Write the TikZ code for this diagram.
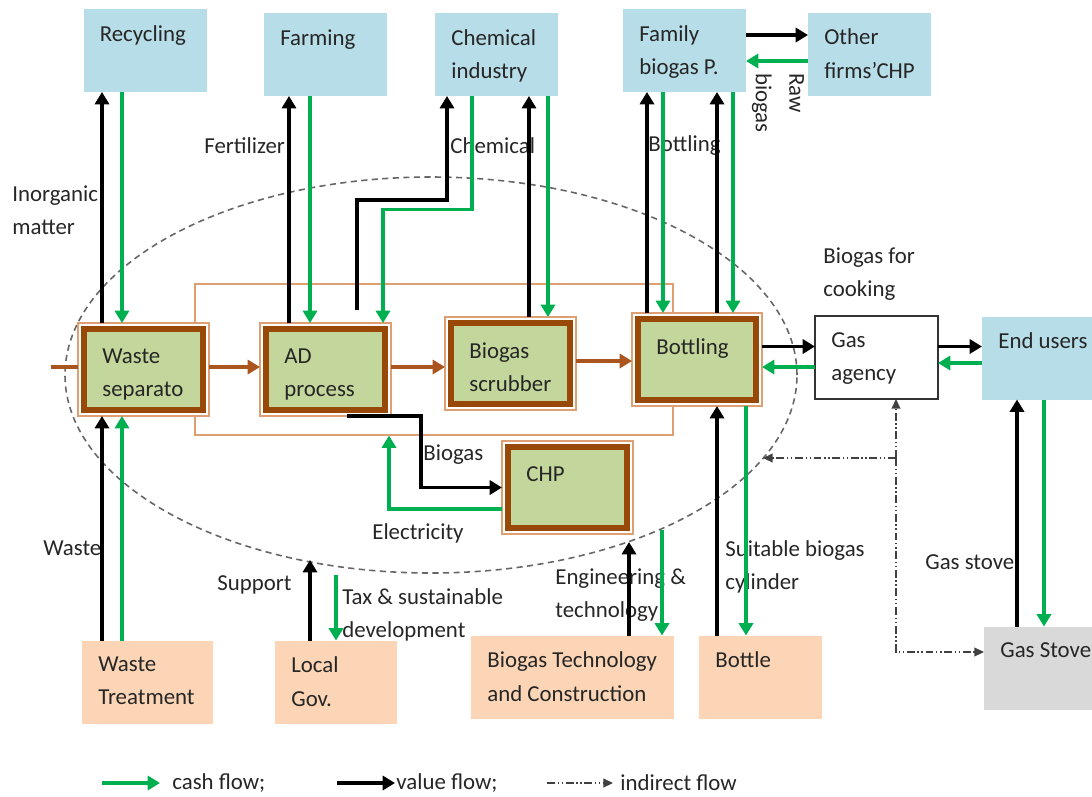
\documentclass[tikz,border=0pt]{standalone}
\usepackage{fontspec}
\setmainfont{Carlito}
\usetikzlibrary{arrows.meta,shapes.geometric}

\definecolor{skyblue}{RGB}{183,221,232}
\definecolor{peach}{RGB}{251,213,181}
\definecolor{stovegray}{RGB}{217,217,217}
\definecolor{procgreen}{RGB}{195,214,155}
\definecolor{procbrown}{RGB}{152,72,7}
\definecolor{edgebrown}{RGB}{222,160,115}
\definecolor{chainbrown}{RGB}{170,85,30}
\definecolor{cashgreen}{RGB}{0,176,80}
\definecolor{txt}{RGB}{38,38,38}

\tikzset{
  every node/.style={font=\fontsize{13}{19}\selectfont, text=txt},
  boxname/.style={anchor=north west, xshift=0.32cm, yshift=-0.32cm, inner sep=0pt, align=left},
  procname/.style={anchor=north west, xshift=0.48cm, yshift=-0.5cm, inner sep=0pt, align=left},
  flowlabel/.style={anchor=west, align=left, inner sep=0pt},
  market/.style={fill=skyblue, minimum width=2.46cm, minimum height=1.66cm, inner sep=0pt, outer sep=0pt},
  supplier/.style={market, fill=peach},
  process/.style={draw=edgebrown, line width=0.6pt, fill=white, minimum width=2.62cm,
    minimum height=1.86cm, inner sep=0pt, outer sep=0pt,
    path picture={\draw[procbrown, fill=procgreen, line width=3.4pt]
      ([shift={(0.12,0.12)}]path picture bounding box.south west) rectangle
      ([shift={(-0.12,-0.12)}]path picture bounding box.north east);}},
  chainframe/.style={draw=edgebrown, line width=0.6pt, minimum width=9.56cm, minimum height=3.02cm, inner sep=0pt},
  zone/.style={ellipse, draw=black!60, line width=0.9pt, dash pattern=on 3.5pt off 2.5pt,
    minimum width=14.64cm, minimum height=7.92cm, inner sep=0pt},
  valueflow/.style={draw=black, line width=2pt, -{Triangle[length=7pt,width=8pt]}},
  cashflow/.style={valueflow, draw=cashgreen},
  chainflow/.style={valueflow, draw=chainbrown},
  indirectflow/.style={draw=black!75, line width=0.9pt, -{Triangle[length=5.5pt,width=5pt]},
    dash pattern=on 4.5pt off 1.5pt on 0.8pt off 1.5pt on 0.8pt off 1.5pt}
}

\begin{document}
\begin{tikzpicture}
  \useasboundingbox (0,0) rectangle (21.84,-15.92);

  % columns and rows of the flows
  \foreach \n/\x in {kRec/2.04, gRec/2.44, kFarm/5.78, gFarm/6.20, kChemA/7.14, gChemA/7.66,
      kChemB/8.94, gChemB/9.44, kScrub/10.58, gScrub/10.96, kFamA/12.94, gFamA/13.26,
      kFamB/14.34, gFamB/14.66, gBottle/14.92, kGov/6.20, gGov/6.72, kTech/12.58,
      gTech/13.24, kUser/20.34, gUser/20.88, kChp/6.94, kChpB/8.42, gChp/7.78}
    \coordinate (\n) at (\x,0);
  \foreach \n/\y in {kOther/-0.70, gOther/-1.22, kAgency/-6.93, gAgency/-7.34, gUsers/-7.26,
      chainA/-7.34, chainB/-7.22, gChpY/-10.18, indY/-13.04}
    \coordinate (\n) at (0,\y);

  % system boundary
  \node[zone] (zone) at (8.62,-7.50) {};
  \node[chainframe] (frame) at (8.68,-7.19) {};

  % markets
  \node[market, label={[boxname]north west:Recycling}] (rec) at (2.90,-1.01) {};
  \node[market, label={[boxname]north west:Farming}] (farm) at (6.51,-1.09) {};
  \node[market, label={[boxname]north west:Chemical\\industry}] (chem) at (9.93,-1.09) {};
  \node[market, label={[boxname]north west:Family\\biogas P.}] (fam) at (13.69,-1.01) {};
  \node[market, label={[boxname]north west:Other\\firms’CHP}] (other) at (17.39,-1.08) {};
  \node[market, label={[boxname]north west:End users}] (users) at (20.87,-7.16) {};
  \node[market, fill=white, draw=black!80, line width=0.8pt,
    label={[boxname]north west:Gas\\agency}] (agency) at (17.53,-7.15) {};
  \node[market, fill=stovegray, label={[boxname]north west:Gas Stove}] (stove) at (20.91,-13.36) {};

  % suppliers
  \node[supplier, minimum width=2.62cm, label={[boxname]north west:Waste\\Treatment}] (wtreat) at (2.95,-13.64) {};
  \node[supplier, minimum width=2.44cm, label={[boxname]north west:Local\\Gov.}] (gov) at (6.72,-13.64) {};
  \node[supplier, minimum width=4.06cm, label={[boxname]north west:Biogas Technology\\and Construction}] (tech) at (11.45,-13.54) {};
  \node[supplier, label={[boxname]north west:Bottle}] (bottle) at (15.21,-13.54) {};

  % process chain
  \node[process, label={[procname]north west:Waste\\separato}] (sep) at (2.87,-7.39) {};
  \node[process, label={[procname]north west:AD\\process}] (ad) at (6.51,-7.39) {};
  \node[process, label={[procname]north west:Biogas\\scrubber}] (scrub) at (10.21,-7.27) {};
  \node[process, minimum width=2.60cm, label={[procname]north west:Bottling}] (bott) at (13.94,-7.19) {};
  \node[process, label={[procname]north west:CHP}] (chp) at (11.35,-9.75) {};

  % flow labels
  \node[flowlabel] (inorg) at (0.24,-4.20) {Inorganic\\matter};
  \node[flowlabel] (fert) at (4.08,-2.92) {Fertilizer};
  \node[flowlabel] (chemlbl) at (9.00,-2.92) {Chemical};
  \node[flowlabel] (bottlbl) at (12.96,-2.92) {Bottling};
  \node[flowlabel, rotate=-90] (raw) at (15.56,-1.46) {Raw\\biogas};
  \node[flowlabel] (cook) at (16.46,-5.48) {Biogas for\\cooking};
  \node[flowlabel] (gaslbl) at (8.46,-9.10) {Biogas};
  \node[flowlabel] (elec) at (7.44,-10.66) {Electricity};
  \node[flowlabel] (wastelbl) at (0.86,-10.96) {Waste};
  \node[flowlabel] (support) at (4.34,-11.70) {Support};
  \node[flowlabel] (tax) at (6.84,-12.30) {Tax \& sustainable\\development};
  \node[flowlabel] (eng) at (11.10,-11.90) {Engineering \&\\technology};
  \node[flowlabel] (suit) at (14.50,-11.34) {Suitable biogas\\cylinder};
  \node[flowlabel] (stovelbl) at (18.50,-11.24) {Gas stove};

  % main chain
  \coordinate (inlet) at (1.02,-7.34);
  \draw[chainflow, -] (inlet) -- (sep.west |- chainA);
  \draw[chainflow] (sep.east |- chainA) -- (ad.west |- chainA);
  \draw[chainflow] (ad.east |- chainA) -- (scrub.west |- chainA);
  \draw[chainflow] (scrub.east |- chainB) -- (bott.west |- chainB);

  % upper markets
  \draw[valueflow] (kRec |- sep.north) -- (kRec |- rec.south);
  \draw[cashflow] (gRec |- rec.south) -- (gRec |- sep.north);
  \draw[valueflow] (kFarm |- ad.north) -- (kFarm |- farm.south);
  \draw[cashflow] (gFarm |- farm.south) -- (gFarm |- ad.north);
  \draw[valueflow, shorten <=0.26cm] (kChemA |- ad.north) -- ++(0,2.46) -| (kChemB |- chem.south);
  \draw[cashflow] (gChemB |- chem.south) -- ++(0,-2.27) -| (gChemA |- ad.north);
  \draw[valueflow] (kScrub |- scrub.north) -- (kScrub |- chem.south);
  \draw[cashflow] (gScrub |- chem.south) -- (gScrub |- scrub.north);
  \draw[valueflow] (kFamA |- bott.north) -- (kFamA |- fam.south);
  \draw[cashflow] (gFamA |- fam.south) -- (gFamA |- bott.north);
  \draw[valueflow] (kFamB |- bott.north) -- (kFamB |- fam.south);
  \draw[cashflow] (gFamB |- fam.south) -- (gFamB |- bott.north);
  \draw[valueflow] (fam.east |- kOther) -- (other.west |- kOther);
  \draw[cashflow] (other.west |- gOther) -- (fam.east |- gOther);

  % distribution
  \draw[valueflow] (bott.east |- kAgency) -- (agency.west |- kAgency);
  \draw[cashflow] (agency.west |- gAgency) -- (bott.east |- gAgency);
  \draw[valueflow] (agency.east |- kAgency) -- (users.west |- kAgency);
  \draw[cashflow] (users.west |- gUsers) -- (agency.east |- gUsers);
  \draw[valueflow] (kUser |- stove.north) -- (kUser |- users.south);
  \draw[cashflow] (gUser |- users.south) -- (gUser |- stove.north);

  % indirect flows
  \coordinate (indhub) at (17.92,-9.16);
  \coordinate (indtip) at (15.26,-9.16);
  \draw[indirectflow] (indhub) -- (indhub |- agency.south);
  \draw[indirectflow] (indhub) -- (indtip);
  \draw[indirectflow] (indhub) |- (stove.west |- indY);

  % suppliers
  \draw[valueflow] (kRec |- wtreat.north) -- (kRec |- sep.south);
  \draw[cashflow] (gRec |- wtreat.north) -- (gRec |- sep.south);
  \coordinate (supporttip) at (6.20,-11.20);
  \coordinate (taxstart) at (6.72,-11.50);
  \draw[valueflow] (kGov |- gov.north) -- (supporttip);
  \draw[cashflow] (taxstart) -- (gGov |- gov.north);
  \coordinate (engtip) at (12.58,-10.84);
  \coordinate (engstart) at (13.24,-10.60);
  \draw[valueflow] (kTech |- tech.north) -- (engtip);
  \draw[cashflow] (engstart) -- (gTech |- tech.north);
  \draw[valueflow] (kFamB |- bottle.north) -- (kFamB |- bott.south);
  \draw[cashflow] (gBottle |- bott.south) -- (gBottle |- bottle.north);

  % CHP loop
  \draw[valueflow] (kChp |- ad.south) -| (kChpB |- chp.west) -- (chp.west);
  \draw[cashflow] (chp.west |- gChpY) -| (gChp |- frame.south);

  % legend
  \node[flowlabel] (lgcash) at (3.44,-15.66) {cash flow;};
  \node[flowlabel] (lgvalue) at (7.92,-15.66) {value flow;};
  \node[flowlabel] (lgind) at (12.40,-15.66) {indirect flow};
  \draw[cashflow] ([xshift=-1.40cm]lgcash.west) -- ([xshift=-0.24cm]lgcash.west);
  \draw[valueflow] ([xshift=-1.18cm]lgvalue.west) -- ([xshift=-0.02cm]lgvalue.west);
  \draw[indirectflow] ([xshift=-1.46cm]lgind.west) -- ([xshift=-0.14cm]lgind.west);
\end{tikzpicture}
\end{document}
